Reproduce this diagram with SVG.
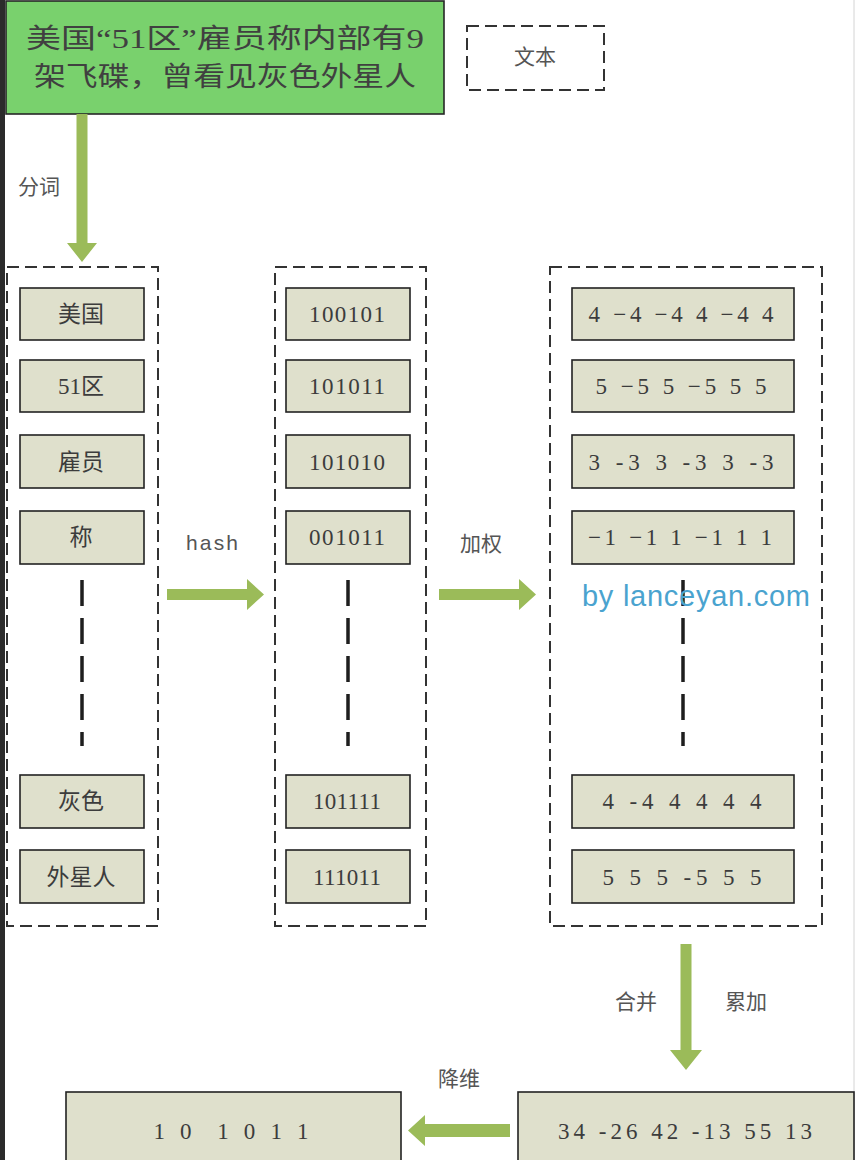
<svg xmlns="http://www.w3.org/2000/svg" width="856" height="1160" viewBox="0 0 856 1160">
<style>
.cjk{font-family:"Liberation Serif","Noto Sans CJK SC",serif;fill:#404040}
.num{font-family:"Liberation Serif","Noto Sans CJK SC",serif;fill:#3c3c3c;font-size:23px;text-anchor:middle}
.lbl{font-family:"Liberation Serif","Noto Sans CJK SC",serif;fill:#555;font-size:21px;text-anchor:middle}
.sans{font-family:"Liberation Sans",Arial,sans-serif}
.box{fill:#dfe0cc;stroke:#222;stroke-width:1.6}
.grp{fill:none;stroke:#333;stroke-width:2;stroke-dasharray:12 6}
.vdash{stroke:#1e1e1e;stroke-width:3.5;stroke-dasharray:26 12}
.arrow{fill:#9bbb59}
</style>
<rect x="0" y="0" width="856" height="1160" fill="#ffffff"/>
<rect x="0" y="0" width="5" height="1160" fill="#2b2b2b"/>
<line x1="854" y1="0" x2="854" y2="1160" stroke="#d4d4d4" stroke-width="1"/>

<g id="source">
<rect x="6" y="1" width="438" height="113" fill="#79d16d" stroke="#262626" stroke-width="1.6"/>
<text class="cjk" x="225" y="48" font-size="27" text-anchor="middle" textLength="398" lengthAdjust="spacingAndGlyphs">美国“51区”雇员称内部有9</text>
<text class="cjk" x="225" y="86" font-size="27" text-anchor="middle" textLength="382" lengthAdjust="spacingAndGlyphs">架飞碟，曾看见灰色外星人</text>
</g>

<g id="legend">
<rect x="467" y="26" width="137" height="64" class="grp"/>
<text class="lbl" x="535" y="64">文本</text>
</g>

<g id="words">
<rect x="7" y="267" width="151" height="659" class="grp"/>
<g id="w1"><rect class="box" x="20" y="288" width="124" height="52"/><text class="num" x="81" y="322">美国</text></g>
<g id="w2"><rect class="box" x="20" y="360" width="124" height="52"/><text class="num" x="81" y="394">51区</text></g>
<g id="w3"><rect class="box" x="20" y="435" width="124" height="53"/><text class="num" x="81" y="470">雇员</text></g>
<g id="w4"><rect class="box" x="20" y="511" width="124" height="53"/><text class="num" x="81" y="545">称</text></g>
<line class="vdash" x1="82" y1="580" x2="82" y2="746"/>
<g id="w5"><rect class="box" x="20" y="775" width="124" height="53"/><text class="num" x="81" y="809">灰色</text></g>
<g id="w6"><rect class="box" x="20" y="850" width="124" height="53"/><text class="num" x="81" y="885">外星人</text></g>
</g>

<g id="hashes">
<rect x="275" y="267" width="151" height="659" class="grp"/>
<g id="h1"><rect class="box" x="286" y="288" width="124" height="52"/><text class="num" x="347" y="322" textLength="76">100101</text></g>
<g id="h2"><rect class="box" x="286" y="360" width="124" height="52"/><text class="num" x="347" y="394" textLength="76">101011</text></g>
<g id="h3"><rect class="box" x="286" y="435" width="124" height="53"/><text class="num" x="347" y="470" textLength="76">101010</text></g>
<g id="h4"><rect class="box" x="286" y="511" width="124" height="53"/><text class="num" x="347" y="545" textLength="76">001011</text></g>
<line class="vdash" x1="348" y1="580" x2="348" y2="746"/>
<g id="h5"><rect class="box" x="286" y="775" width="124" height="53"/><text class="num" x="347" y="809" textLength="68">101111</text></g>
<g id="h6"><rect class="box" x="286" y="850" width="124" height="53"/><text class="num" x="347" y="885" textLength="68">111011</text></g>
</g>

<g id="weights">
<rect x="550" y="267" width="272" height="659" class="grp"/>
<g id="v1"><rect class="box" x="572" y="288" width="222" height="52"/><text class="num" x="681" y="322" textLength="185">4 −4 −4 4 −4 4</text></g>
<g id="v2"><rect class="box" x="572" y="360" width="222" height="52"/><text class="num" x="681" y="394" textLength="171">5 −5 5 −5 5 5</text></g>
<g id="v3"><rect class="box" x="572" y="435" width="222" height="53"/><text class="num" x="681" y="470" textLength="185">3 -3 3 -3 3 -3</text></g>
<g id="v4"><rect class="box" x="572" y="511" width="222" height="53"/><text class="num" x="680" y="545" textLength="184">−1 −1 1 −1 1 1</text></g>
<line class="vdash" x1="683" y1="580" x2="683" y2="746"/>
<g id="v5"><rect class="box" x="572" y="775" width="222" height="53"/><text class="num" x="682" y="809" textLength="159">4 -4 4 4 4 4</text></g>
<g id="v6"><rect class="box" x="572" y="850" width="222" height="53"/><text class="num" x="682" y="885" textLength="159">5 5 5 -5 5 5</text></g>
</g>

<g id="sum">
<rect class="box" x="518" y="1092" width="336" height="80"/>
<text class="num" x="685" y="1139" textLength="254">34 -26 42 -13 55 13</text>
</g>

<g id="fingerprint">
<rect class="box" x="66" y="1092" width="335" height="80"/>
<text class="num" x="231" y="1139" textLength="155" xml:space="preserve">1 0  1 0 1 1</text>
</g>

<g id="connectors">
<path class="arrow" d="M76.5 114 H87.5 V243 H97 L82 262 L67 243 H76.5 Z"/>
<path class="arrow" d="M167 589 H247 V579 L264 594.5 L247 610 V600 H167 Z"/>
<path class="arrow" d="M439 589 H519 V579 L536 594.5 L519 610 V600 H439 Z"/>
<path class="arrow" d="M680.5 944 H691.5 V1050 H702 L686 1070 L670 1050 H680.5 Z"/>
<path class="arrow" d="M510 1124 H425 V1115 L408 1130.5 L425 1146 V1137 H510 Z"/>
<text class="lbl" x="39" y="194">分词</text>
<text class="lbl sans" x="212" y="550" textLength="52">hash</text>
<text class="lbl" x="481" y="551">加权</text>
<text class="lbl" x="636" y="1009">合并</text>
<text class="lbl" x="746" y="1009">累加</text>
<text class="lbl" x="459" y="1086">降维</text>
</g>

<text class="sans" x="696" y="606" font-size="29" fill="#4aa3cf" text-anchor="middle" textLength="228">by lanceyan.com</text>
</svg>
